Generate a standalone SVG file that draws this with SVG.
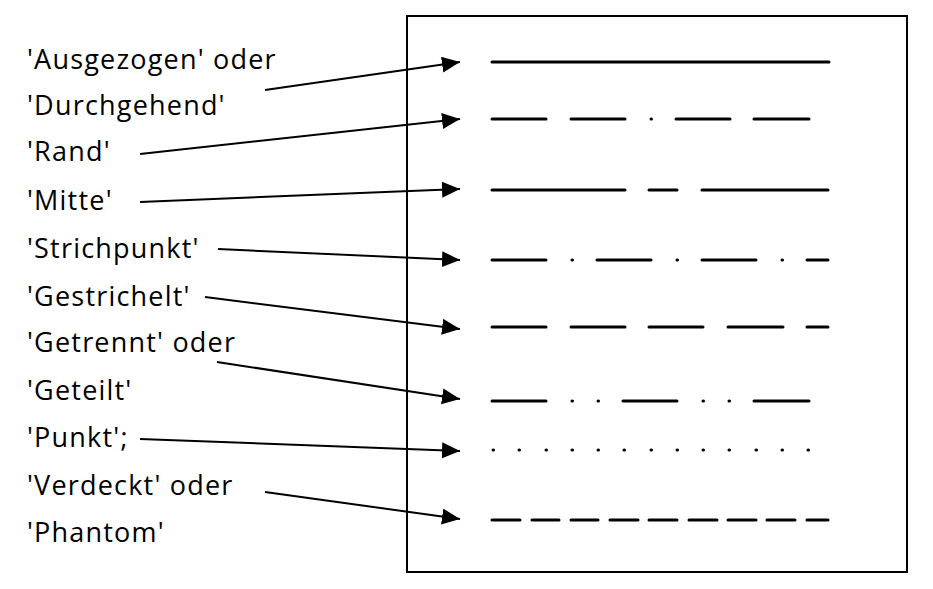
<svg xmlns="http://www.w3.org/2000/svg" width="933" height="589" viewBox="0 0 933 589">
<style>
.lbl{font-family:"Open Sans","Liberation Sans",sans-serif;font-size:27px;letter-spacing:1.2px;fill:#000}
.pat{stroke:#000;stroke-width:3;stroke-linecap:round;fill:none}
.con{stroke:#000;stroke-width:2;fill:none}
</style>
<defs>
<marker id="ah" markerUnits="userSpaceOnUse" markerWidth="20" markerHeight="18" refX="18" refY="8" orient="auto">
<path d="M0,0 L18,8 L0,16 Z" fill="#000"/>
</marker>
</defs>
<rect x="0" y="0" width="933" height="589" fill="#fff"/>
<g id="frame"><rect x="407" y="16" width="500" height="556" fill="none" stroke="#000" stroke-width="2"/></g>
<g id="labels">
<text class="lbl" x="27" y="69">'Ausgezogen' oder</text>
<text class="lbl" x="27" y="115">'Durchgehend'</text>
<text class="lbl" x="27" y="161">'Rand'</text>
<text class="lbl" x="27" y="210">'Mitte'</text>
<text class="lbl" x="27" y="258">'Strichpunkt'</text>
<text class="lbl" x="27" y="306">'Gestrichelt'</text>
<text class="lbl" x="27" y="352">'Getrennt' oder</text>
<text class="lbl" x="27" y="400">'Geteilt'</text>
<text class="lbl" x="27" y="447">'Punkt';</text>
<text class="lbl" x="27" y="495">'Verdeckt' oder</text>
<text class="lbl" x="27" y="542">'Phantom'</text>
</g>
<g id="patterns">
<path id="p1" class="pat" d="M492,62 H829"/>
<path id="p2" class="pat" d="M492,119 H546 M571,119 H625 M651,119 H651.5 M676,119 H730 M754,119 H809"/>
<path id="p3" class="pat" d="M492,190 H625 M649,190 H677 M702,190 H828"/>
<path id="p4" class="pat" d="M492,260 H546 M572,260 H572.5 M597,260 H651 M677,260 H677.5 M702,260 H756 M782,260 H782.5 M807,260 H828"/>
<path id="p5" class="pat" d="M492,327 H546 M571,327 H625 M649,327 H703 M728,327 H783 M807,327 H828"/>
<path id="p6" class="pat" d="M492,401 H546 M572,401 H572.5 M598,401 H598.5 M623,401 H677 M703,401 H703.5 M729,401 H729.5 M754,401 H809"/>
<path id="p7" class="pat" d="M493,450 h0.5 M519,450 h0.5 M546,450 h0.5 M572,450 h0.5 M598,450 h0.5 M624,450 h0.5 M651,450 h0.5 M677,450 h0.5 M703,450 h0.5 M729,450 h0.5 M756,450 h0.5 M782,450 h0.5 M808,450 h0.5"/>
<path id="p8" class="pat" d="M492,520 H520 M532,520 H559 M571,520 H598 M610,520 H638 M649,520 H677 M689,520 H717 M728,520 H756 M767,520 H795 M807,520 H828"/>
</g>
<g id="connectors">
<line class="con" x1="265" y1="90" x2="460" y2="62" marker-end="url(#ah)"/>
<line class="con" x1="140" y1="154" x2="460" y2="119" marker-end="url(#ah)"/>
<line class="con" x1="140" y1="202" x2="460" y2="189" marker-end="url(#ah)"/>
<line class="con" x1="218" y1="249" x2="460" y2="260" marker-end="url(#ah)"/>
<line class="con" x1="205" y1="297" x2="460" y2="329" marker-end="url(#ah)"/>
<line class="con" x1="217" y1="362" x2="460" y2="399" marker-end="url(#ah)"/>
<line class="con" x1="140" y1="439" x2="460" y2="451" marker-end="url(#ah)"/>
<line class="con" x1="265" y1="492" x2="460" y2="519" marker-end="url(#ah)"/>
</g>
</svg>
